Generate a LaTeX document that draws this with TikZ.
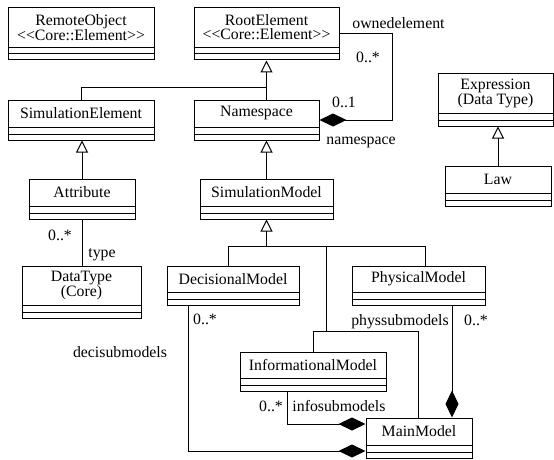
\documentclass[tikz,border=0pt]{standalone}
\usepackage{fontspec}
\setmainfont{Liberation Serif}
\usetikzlibrary{arrows.meta,fit,calc}
\tikzset{
  clsbox/.style={draw, line width=1pt, inner sep=0pt, fill=white},
  clstext/.style={font=\fontsize{15.8}{14}\selectfont, align=center, inner sep=0pt},
  lbl/.style={font=\fontsize{15.8}{14}\selectfont, inner sep=0pt},
  conn/.style={line width=1pt},
  gen/.style={conn, -{Triangle[open, length=12pt, width=12pt, fill=white]}},
  comp/.style={conn, -{Diamond[length=27pt, width=13pt]}},
}
\newcommand{\umlcls}[6]{%
  \coordinate (#1-nw) at (#2,#3);
  \coordinate (#1-se) at (#4,#5);
  \node[clsbox, fit=(#1-nw)(#1-se)] (#1) {};
  \draw[line width=1pt] ([yshift=13pt]#1.south west) -- ([yshift=13pt]#1.south east);
  \draw[line width=1pt] ([yshift=6.5pt]#1.south west) -- ([yshift=6.5pt]#1.south east);
  \node[clstext] (#1-t) at ($(#1.north)!0.5!([yshift=13pt]#1.south)$) {#6};
}
\newcommand{\stereo}{<\kern0pt<Core::Element>\kern0pt>}
\begin{document}
\begin{tikzpicture}[x=1pt,y=-1pt]
\useasboundingbox (0,0) rectangle (554,460);
\umlcls{ro}{8}{8}{154}{60}{RemoteObject\\\stereo}
\umlcls{root}{194}{8}{339}{60}{RootElement\\\stereo}
\umlcls{simel}{8}{100}{154}{140}{SimulationElement}
\umlcls{ns}{194}{100}{319}{140}{Namespace}
\umlcls{attr}{29}{179}{135}{219}{Attribute}
\umlcls{simmod}{200}{179}{333}{219}{SimulationModel}
\umlcls{dt}{22}{266}{141}{318}{DataType\\(Core)}
\umlcls{dec}{167}{266}{299}{305}{DecisionalModel}
\umlcls{phys}{352}{266}{485}{305}{PhysicalModel}
\umlcls{info}{240}{352}{386}{391}{InformationalModel}
\umlcls{main}{366}{418}{472}{458}{MainModel}
\umlcls{expr}{438}{74}{553}{126}{Expression\\(Data Type)}
\umlcls{law}{445}{166}{551}{206}{Law}

% generalizations
\coordinate (j1) at (266.5,87);
\draw[gen] (simel.north) |- (j1) -- (root.south);
\draw[conn] (ns.north -| root.south) -- (j1);
\draw[gen] (attr.north) -- (attr.north |- simel.south);
\draw[gen] (simmod.north) -- (simmod.north |- ns.south);
\draw[gen] (law.north) -- (law.north |- expr.south);

\coordinate (j2) at (266.5,246);
\coordinate (b1) at (228,246);
\coordinate (b2) at (326,246);
\coordinate (b3) at (425,246);
\coordinate (b4) at (326,331);
\coordinate (b5) at (313,331);
\coordinate (b6) at (418,331);
\draw[gen] (j2) -- (simmod.south);
\draw[conn] (b1 |- dec.north) -- (b1) -- (b3) -- (b3 |- phys.north);
\draw[conn] (b2) -- (b4);
\draw[conn] (b5 |- info.north) -- (b5) -- (b6) -- (b6 |- main.north);

% associations
\draw[conn] (attr.south) -- (attr.south |- dt.north);
\node[lbl] (l-a1) at (60,235) {0..*};
\node[lbl] (l-a2) at (102,255) {type};

\draw[comp] (root.east) -- ++(53,0) |- (ns.east);
\node[lbl] (l-o1) at (398.5,23) {ownedelement};
\node[lbl] (l-o2) at (368,57) {0..*};
\node[lbl] (l-o3) at (344,102) {0..1};
\node[lbl] (l-o4) at (361,142) {namespace};

\draw[comp] ([xshift=33.5pt]phys.south) -- ([xshift=33.5pt]phys.south |- main.north);
\node[lbl] (l-p1) at (476,320) {0..*};
\node[lbl] (l-p2) at (400,322) {physsubmodels};

\draw[comp] ([xshift=-26pt]info.south) |- ([yshift=14pt]main.west);
\node[lbl] (l-i1) at (271,406) {0..*};
\node[lbl] (l-i2) at (339,406) {infosubmodels};

\draw[comp] ([xshift=-45pt]dec.south) |- ([yshift=-13pt]main.west);
\node[lbl] (l-d1) at (205,319) {0..*};
\node[lbl] (l-d2) at (120,352) {decisubmodels};
\end{tikzpicture}
\end{document}
